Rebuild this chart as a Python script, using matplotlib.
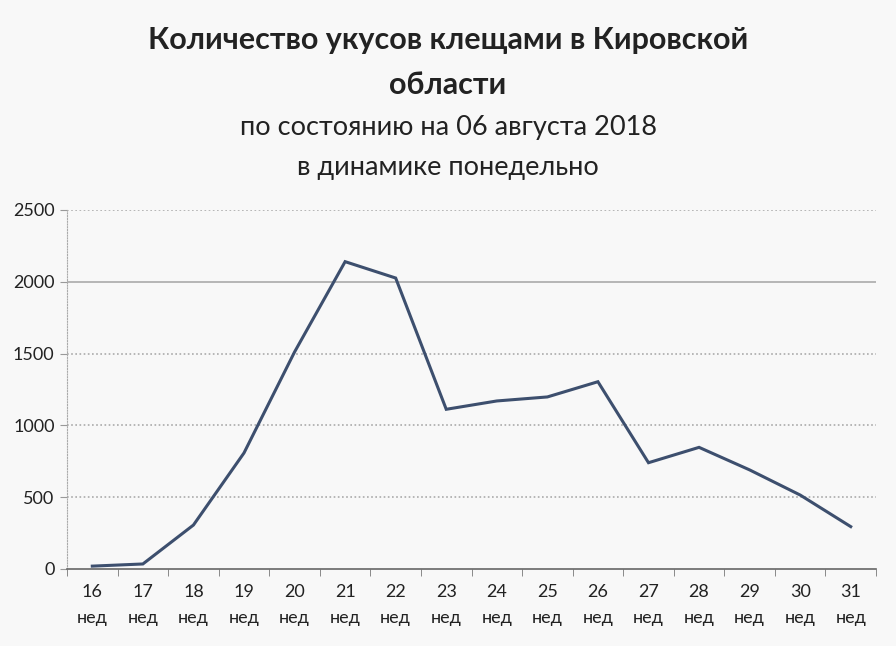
import numpy as np
import matplotlib.pyplot as plt

# weekly tick-bite counts, Kirov region 2018
weeks = ['16', '17', '18', '19', '20', '21', '22', '23',
         '24', '25', '26', '27', '28', '29', '30', '31']
bites = [20, 35, 306, 808, 1511, 2140, 2026, 1112,
         1170, 1198, 1304, 740, 847, 690, 515, 295]

plt.rcParams['font.family'] = ['Lato', 'DejaVu Sans']

fig = plt.figure(figsize=(8.96, 6.46), dpi=100, facecolor='#f8f8f8')
ax = fig.add_axes([0.0748, 0.1192, 0.9029, 0.5558])
ax.set_facecolor('#f8f8f8')

x = np.arange(len(weeks))
ax.plot(x, bites, color='#3d4f6e', lw=2.2, solid_joinstyle='miter')

ax.set_xlim(-0.5, len(weeks) - 0.5)
ax.set_ylim(0, 2500)
ax.set_yticks([0, 500, 1000, 1500, 2000, 2500])
ax.set_xticks(x)
ax.set_xticklabels([w + '\nнед' for w in weeks], fontsize=13, color='#222222',
                   linespacing=1.75)
ax.tick_params(axis='x', length=0, pad=11)
ax.tick_params(axis='y', length=5, color='#999999', labelsize=13,
               labelcolor='#222222', pad=4)

# minor ticks between categories on the x axis
ax.set_xticks(np.arange(-0.5, len(weeks)), minor=True)
ax.tick_params(axis='x', which='minor', length=5, color='#777777', direction='out')

for v in [500, 1000, 1500, 2500]:
    ax.axhline(v, color='#aaaaaa', lw=1.2, ls=(0, (1, 1.5)), zorder=0)
ax.axhline(2000, color='#b0b0b0', lw=1.3, zorder=0)

for s in ['top', 'right']:
    ax.spines[s].set_visible(False)
ax.spines['left'].set_color('#aaaaaa')
ax.spines['left'].set_linestyle((0, (1, 1.5)))
ax.spines['bottom'].set_color('#666666')
ax.spines['bottom'].set_linewidth(1.2)

fig.text(0.5, 0.938, 'Количество укусов клещами в Кировской', ha='center',
         va='center', fontsize=22, fontweight='bold', color='#222222')
fig.text(0.5, 0.868, 'области', ha='center', va='center', fontsize=22,
         fontweight='bold', color='#222222')
fig.text(0.5, 0.802, 'по состоянию на 06 августа 2018', ha='center',
         va='center', fontsize=19.5, color='#222222')
fig.text(0.5, 0.740, 'в динамике понедельно', ha='center', va='center',
         fontsize=19.5, color='#222222')

fig.savefig('out.png', dpi=100, facecolor=fig.get_facecolor())
